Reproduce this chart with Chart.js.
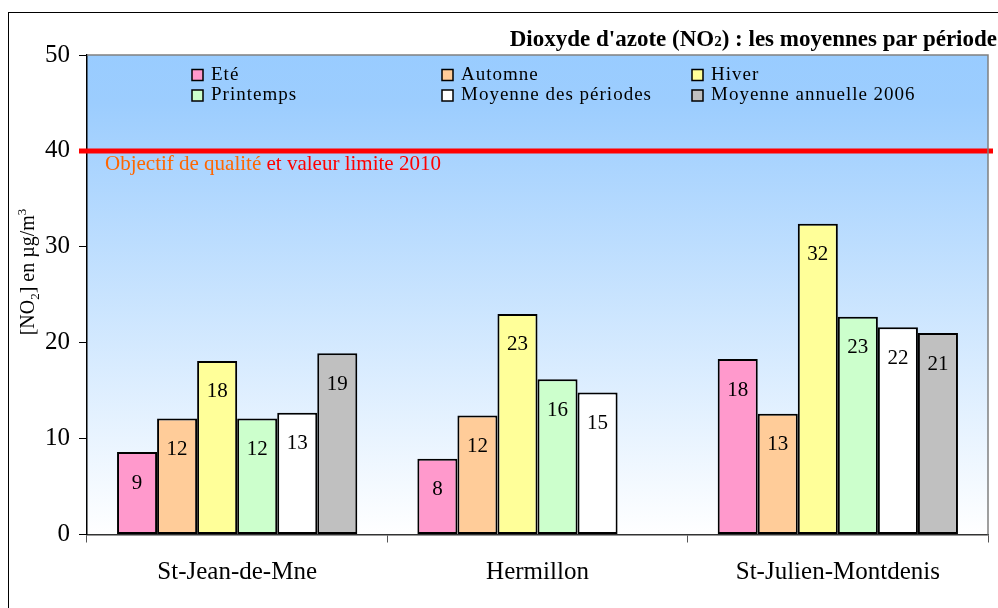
<!DOCTYPE html>
<html>
<head>
<meta charset="utf-8">
<script src="https://cdn.jsdelivr.net/npm/chart.js@4.4.1/dist/chart.umd.min.js"></script>
<style>
    html, body { margin: 0; padding: 0; background: #fff; overflow: hidden; }
</style>
</head>
<body>
<canvas id="chart" width="998" height="608"></canvas>
<script>
/* Données */
const sites = ['St-Jean-de-Mne', 'Hermillon', 'St-Julien-Montdenis'];
const ete = [8.6, 7.9, 18.3];
const automne = [12.1, 12.4, 12.6];
const hiver = [18.1, 23.0, 32.4];
const printemps = [12.1, 16.2, 22.7];
const moyennePeriodes = [12.7, 14.8, 21.6];
const moyenneAnnuelle = [18.9, null, 21.0];
const yMax = 50;
const yStep = 10;
const limite = 40;

const SERIF = "'Liberation Serif', 'Times New Roman', serif";

/* Fond, légende, titres */
const decor = {
    id: 'decor',
    beforeDraw(chart) {
        const { ctx, chartArea: a } = chart;
        ctx.save();
        ctx.fillStyle = '#ffffff';
        ctx.fillRect(0, 0, chart.width, chart.height);
        ctx.strokeStyle = '#000';
        ctx.lineWidth = 1;
        ctx.strokeRect(8.5, 12.5, 1200, 1200);

        const g = ctx.createLinearGradient(0, a.top, 0, a.bottom);
        g.addColorStop(0, '#99ccff');
        g.addColorStop(0.1, '#9ccdfe');
        g.addColorStop(1, '#ffffff');
        ctx.fillStyle = g;
        ctx.fillRect(a.left, a.top, a.right - a.left, a.bottom - a.top);
        ctx.restore();
    },
    afterDatasetsDraw(chart) {
        const { ctx, chartArea: a } = chart;
        const y = chart.scales.y.getPixelForValue(limite);

        ctx.save();
        // ligne 40
        ctx.strokeStyle = '#ff0000';
        ctx.lineWidth = 5;
        ctx.beginPath();
        ctx.moveTo(a.left - 8, y);
        ctx.lineTo(a.right + 5, y);
        ctx.stroke();

        ctx.font = '21px ' + SERIF;
        ctx.textBaseline = 'middle';
        ctx.textAlign = 'left';
        const part1 = 'Objectif de qualité';
        ctx.fillStyle = '#ff6600';
        ctx.fillText(part1, 105, y + 14);
        ctx.fillStyle = '#ff0000';
        ctx.fillText(' et valeur limite 2010', 105 + ctx.measureText(part1).width, y + 14);

        // étiquettes des barres
        ctx.font = '21px ' + SERIF;
        ctx.fillStyle = '#000';
        ctx.textAlign = 'center';
        chart.data.datasets.forEach((ds, i) => {
            chart.getDatasetMeta(i).data.forEach((bar, j) => {
                const v = ds.data[j];
                if (v === null) return;
                ctx.fillText(String(Math.round(v)), bar.x, bar.y + 31);
            });
        });

        // bord du graphique
        ctx.strokeStyle = '#808080';
        ctx.lineWidth = 1.5;
        ctx.beginPath();
        ctx.moveTo(a.left, a.top);
        ctx.lineTo(a.right, a.top);
        ctx.lineTo(a.right, a.bottom);
        ctx.stroke();
        ctx.restore();
    },
    afterDraw(chart) {
        const { ctx } = chart;
        ctx.save();

        // légende
        ctx.textBaseline = 'middle';
        ctx.textAlign = 'left';
        ctx.font = '19px ' + SERIF;
        ctx.letterSpacing = '1px';
        chart.data.datasets.forEach((ds, i) => {
            const x = 192 + (i % 3) * 250;
            const y = 75 + Math.floor(i / 3) * 20.5;
            ctx.fillStyle = ds.backgroundColor;
            ctx.fillRect(x, y - 5.5, 11, 11);
            ctx.strokeStyle = '#000';
            ctx.lineWidth = 1.5;
            ctx.strokeRect(x, y - 5.5, 11, 11);
            ctx.fillStyle = '#000';
            ctx.fillText(ds.label, x + 19, y);
        });
        ctx.letterSpacing = '0px';

        // titre
        const bold = 'bold 23px ' + SERIF;
        const small = 'bold 15px ' + SERIF;
        const t1 = "Dioxyde d'azote (NO";
        const t2 = '2';
        const t3 = ') : les moyennes par période';
        ctx.font = bold;
        const w1 = ctx.measureText(t1).width;
        const w3 = ctx.measureText(t3).width;
        ctx.font = small;
        const w2 = ctx.measureText(t2).width;
        let x = 997 - (w1 + w2 + w3);
        ctx.textBaseline = 'alphabetic';
        ctx.fillStyle = '#000';
        ctx.font = bold;
        ctx.fillText(t1, x, 46);
        x += w1;
        ctx.font = small;
        ctx.fillText(t2, x, 46);
        x += w2;
        ctx.font = bold;
        ctx.fillText(t3, x, 46);

        // titre de l'axe Y
        ctx.translate(34, 272);
        ctx.rotate(-Math.PI / 2);
        const n = '20px ' + SERIF;
        const s = '13px ' + SERIF;
        const pieces = [
            ['[NO', n, 0], ['2', s, 5], ['] en µg/m', n, 0], ['3', s, -8]
        ];
        let total = 0;
        pieces.forEach((p) => { ctx.font = p[1]; total += ctx.measureText(p[0]).width; });
        let px = -total / 2;
        pieces.forEach((p) => {
            ctx.font = p[1];
            ctx.fillText(p[0], px, p[2]);
            px += ctx.measureText(p[0]).width;
        });
        ctx.restore();
    }
};

const barStyle = {
    borderColor: '#000000',
    borderWidth: 2,
    borderSkipped: false
};

new Chart(document.getElementById('chart'), {
    type: 'bar',
    data: {
        labels: sites,
        datasets: [
            { label: 'Eté', data: ete, backgroundColor: '#ff99cc', ...barStyle },
            { label: 'Automne', data: automne, backgroundColor: '#ffcc99', ...barStyle },
            { label: 'Hiver', data: hiver, backgroundColor: '#ffff99', ...barStyle },
            { label: 'Printemps', data: printemps, backgroundColor: '#ccffcc', ...barStyle },
            { label: 'Moyenne des périodes', data: moyennePeriodes, backgroundColor: '#ffffff', ...barStyle },
            { label: 'Moyenne annuelle 2006', data: moyenneAnnuelle, backgroundColor: '#c0c0c0', ...barStyle }
        ]
    },
    options: {
        responsive: false,
        animation: false,
        layout: { padding: { top: 55, right: 10, left: 0, bottom: 0 } },
        datasets: {
            bar: { categoryPercentage: 0.8, barPercentage: 1 }
        },
        plugins: {
            legend: { display: false },
            tooltip: { enabled: false }
        },
        scales: {
            x: {
                grid: {
                    drawOnChartArea: false,
                    tickLength: 8,
                    color: '#555'
                },
                border: { color: '#333', width: 1.5 },
                ticks: {
                    color: '#000',
                    font: { family: SERIF, size: 25 },
                    padding: 15
                },
                afterFit(scale) { scale.height = 73.5; }
            },
            y: {
                min: 0,
                max: yMax,
                grid: {
                    drawOnChartArea: false,
                    tickLength: 8,
                    color: '#000'
                },
                border: { color: '#000', width: 1.5 },
                ticks: {
                    stepSize: yStep,
                    color: '#000',
                    font: { family: SERIF, size: 25 },
                    padding: 9
                },
                afterFit(scale) { scale.width = 87; }
            }
        }
    },
    plugins: [decor]
});
</script>
</body>
</html>
